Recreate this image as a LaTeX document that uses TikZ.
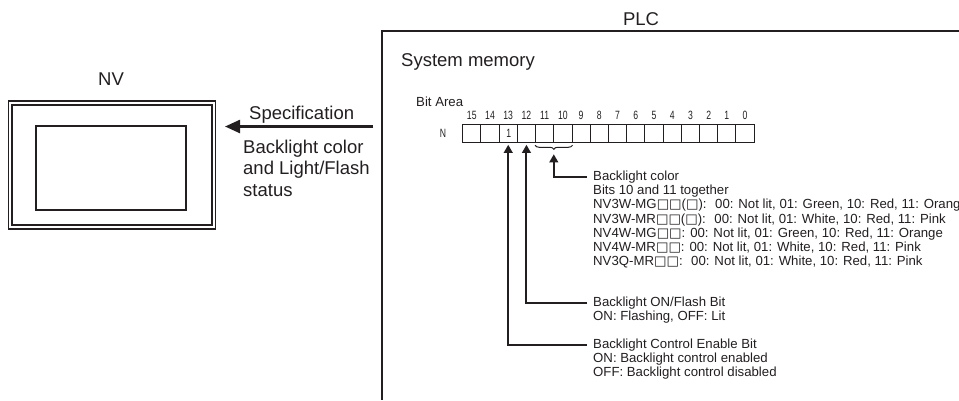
\documentclass[tikz,border=0pt]{standalone}
\usepackage{fontspec}
\setmainfont{Liberation Sans}
\newfontfamily\narrowfont[FakeStretch=0.72]{Liberation Sans}
\newfontfamily\sqfont{DejaVu Sans}
\usetikzlibrary{arrows.meta}
\usetikzlibrary{decorations.pathreplacing}
\definecolor{inkdark}{HTML}{231F20}
\newcommand{\sq}{{\sqfont □}}
\tikzset{txt/.style = {anchor=base west, inner sep=0, text=inkdark, font=\fontsize{13.2}{14.2}\selectfont, align=left}}
\tikzset{bigtxt/.style = {txt, font=\fontsize{18.5}{21.5}\selectfont}}
\tikzset{numtxt/.style = {anchor=base, inner sep=0, text=inkdark, font=\fontsize{12}{12}\narrowfont}}
\tikzset{bitcell/.style = {draw=inkdark, line width=1pt, inner sep=0, minimum width=18.22pt, minimum height=17.3pt}}
\tikzset{framebox/.style = {draw=inkdark, inner sep=0}}
\tikzset{elbow/.style = {draw=inkdark, line width=2pt, -{Triangle[length=8pt,width=8.5pt]}}}

\begin{document}
\begin{tikzpicture}[x=1pt, y=-1pt]
      \useasboundingbox (0,0) rectangle (959,400);

      \node[framebox, line width=1.3pt, minimum width=207.4pt, minimum height=128pt] (nvouter) at (112,165) {};
      \node[framebox, line width=1.6pt, minimum width=199.7pt, minimum height=119.7pt] (nvinner) at (112,165) {};
      \node[framebox, line width=1.6pt, minimum width=150pt, minimum height=83.7pt] (nvscreen) at (110.7,167.9) {};
      \node[bigtxt, anchor=base] (nvname) at (111,85) {NV};

      \draw[draw=inkdark, line width=1.4pt] (959,31) -- (382,31) -- (382,400);
      \node[bigtxt, anchor=base] (plcname) at (641,25) {PLC};
      \node[bigtxt] (sysmem) at (401,66) {System memory};

      \coordinate (specstart) at (373,126.5);
      \coordinate (specend) at (225,126.5);
      \draw[draw=inkdark, line width=2.4pt, -{Triangle[length=15pt,width=13pt]}] (specstart) -- (specend);
      \node[bigtxt] (spec) at (249,119.3) {Specification};
      \node[bigtxt, anchor=north west] (specinfo) at (243,139.8) {Backlight color\\and Light/Flash\\status};

      \node[txt] (bitarea) at (416,106.7) {Bit Area};
      \node[numtxt] (nrow) at (443,137.3) {N};
      \foreach \n [count=\i from 0, evaluate=\i as \x using 471.8+\i*18.22] in {15,14,...,0} {
        \node[bitcell] (bit\n) at (\x,133.6) {};
        \node[numtxt] (num\n) at (\x,119.3) {\n};
      }
      \node[numtxt] (one) at (508.7,137.3) {1};

      \draw[draw=inkdark, line width=1pt, decorate, decoration={brace, mirror, amplitude=4pt}] ([yshift=-2.5pt]bit11.south west) -- ([yshift=-2.5pt]bit10.south east) coordinate[midway] (bracemid);
      \coordinate (colortip) at ([yshift=-9pt]bracemid);

      \node[txt] (colortitle) at (593,180) {Backlight color};
      \node[txt, anchor=north west] (colorinfo) at (593,185) {Bits 10 and 11 together\\
        NV3W-MG\sq\sq(\sq): \ 00: Not lit, 01: Green, 10: Red, 11: Orange\\
        NV3W-MR\sq\sq(\sq): \ 00: Not lit, 01: White, 10: Red, 11: Pink\\
        NV4W-MG\sq\sq: 00: Not lit, 01: Green, 10: Red, 11: Orange\\
        NV4W-MR\sq\sq: 00: Not lit, 01: White, 10: Red, 11: Pink\\
        NV3Q-MR\sq\sq: \ 00: Not lit, 01: White, 10: Red, 11: Pink};
      \node[txt] (flashtitle) at (593,306.7) {Backlight ON/Flash Bit};
      \node[txt, anchor=north west] (flashinfo) at (593,311) {ON: Flashing, OFF: Lit};
      \node[txt] (enabletitle) at (593,348.3) {Backlight Control Enable Bit};
      \node[txt, anchor=north west] (enableinfo) at (593,352.7) {ON: Backlight control enabled\\OFF: Backlight control disabled};

      \draw[elbow, shorten <=6pt] (colortitle.west) -| (colortip);
      \draw[elbow, shorten <=6pt, shorten >=2pt] (flashtitle.west) -| (bit12.south);
      \draw[elbow, shorten <=6pt, shorten >=2pt] (enabletitle.west) -| (bit13.south);
    \end{tikzpicture}
\end{document}
